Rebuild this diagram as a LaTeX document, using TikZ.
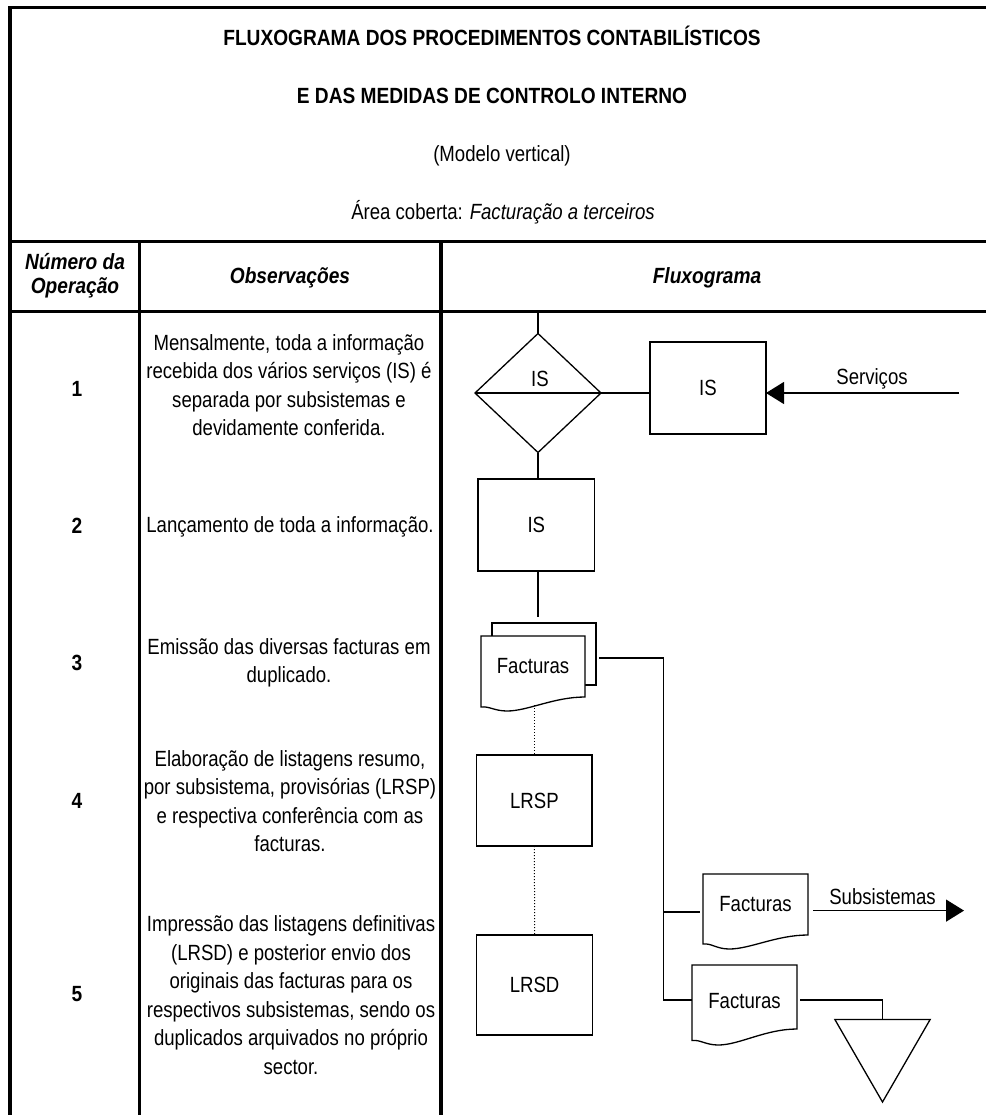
\documentclass[tikz,border=0pt]{standalone}
\usepackage{fontspec}
\setmainfont{Liberation Sans}[FakeStretch=0.845]
\newfontfamily\headfont{Liberation Sans}[FakeStretch=0.87]
\usetikzlibrary{shapes.geometric,arrows.meta,calc}

% document symbol: centre, width, height of the straight part, drop of the left corner, depth of the wave
\newcommand{\docoutline}[5]{%
  \draw[flow, fill=white] ($(#1)+(-#2/2,-#3/2)$) -- ++(#2,0) -- ++(0,#3)
    .. controls +(-0.3*#2,0) and +(0.2*#2,0) .. ++(-0.75*#2,#5)
    .. controls +(-0.12*#2,0) and +(0.08*#2,-1) .. ++(-0.25*#2,#4-#5) -- cycle;}

\begin{document}
\begin{tikzpicture}[x=1pt, y=-1pt,
  every node/.style={inner sep=0pt, outer sep=0pt},
  txt/.style={font=\fontsize{22}{28.5}\selectfont},
  obs/.style={txt, align=center},
  titletxt/.style={font=\headfont\fontsize{22}{24}\selectfont\bfseries, anchor=base},
  colhead/.style={font=\headfont\fontsize{22}{24}\selectfont\bfseries\itshape, anchor=base},
  num/.style={font=\headfont\fontsize{22}{24}\selectfont\bfseries, anchor=base},
  tblline/.style={line width=3.2pt, line cap=rect},
  flow/.style={line width=1.3pt},
  procbox/.style={draw, flow, rectangle, fill=white, txt},
  docbox/.style={rectangle, txt},
  dotline/.style={line width=1pt, dash pattern=on 1pt off 2pt},
  flowarrow/.style={flow, -{Triangle[length=18pt,width=22pt]}}
]
\useasboundingbox (0,0) rectangle (985,1115);
\fill[white] (0,0) rectangle (985,1115);

% table frame
\draw[tblline] (985,7.5) -- (10,7.5) -- (10,1115);
\draw[tblline] (10,241.5) -- (985,241.5);
\draw[tblline] (10,311.5) -- (985,311.5);
\draw[tblline] (139.5,241.5) -- (139.5,1115);
\draw[tblline] (441,241.5) -- (441,1115);

% heading
\node[titletxt] (t1) at (492,46) {FLUXOGRAMA DOS PROCEDIMENTOS CONTABILÍSTICOS};
\node[titletxt] (t2) at (492,104) {E DAS MEDIDAS DE CONTROLO INTERNO};
\node[txt, anchor=base] (t3) at (502,162) {(Modelo vertical)};
\node[txt, anchor=base] (t4) at (503,219) {Área coberta: \textit{Facturação a terceiros}};

% column headings
\node[colhead] (h1a) at (75,269) {Número da};
\node[colhead] (h1b) at (75,293) {Operação};
\node[colhead] (h2) at (290,283) {Observações};
\node[colhead] (h3) at (707,283) {Fluxograma};

% operation numbers
\node[num] (n1) at (77,396) {1};
\node[num] (n2) at (77,533) {2};
\node[num] (n3) at (77,670) {3};
\node[num] (n4) at (77,808) {4};
\node[num] (n5) at (77,1001) {5};

% remarks
\node[obs] (o1) at (289,385) {Mensalmente, toda a informação\\recebida dos vários serviços (IS) é\\separada por subsistemas e\\devidamente conferida.};
\node[txt, anchor=base] (o2) at (290,532) {Lançamento de toda a informação.};
\node[obs] (o3) at (289,663) {Emissão das diversas facturas em\\duplicado.};
\node[obs] (o4) at (290,801) {Elaboração de listagens resumo,\\por subsistema, provisórias (LRSP)\\e respectiva conferência com as\\facturas.};
\node[obs] (o5) at (291,995) {Impressão das listagens definitivas\\(LRSD) e posterior envio dos\\originais das facturas para os\\respectivos subsistemas, sendo os\\duplicados arquivados no próprio\\sector.};

% flowchart: operation 1
\coordinate (top) at (538,311.5);
\node[draw, flow, diamond, minimum width=126pt, minimum height=119pt] (dia) at (538,393) {};
\draw[flow] (dia.west) -- (dia.east);
\node[txt, anchor=base] (dialbl) at (540,386) {IS};
\draw[flow] (top) -- (dia.north);
\node[procbox, minimum width=116pt, minimum height=92pt] (is1) at (708,388) {IS};
\draw[flow] (dia.east) -- (dia.east -| is1.west);
\coordinate (srv) at (959,393);
\draw[flowarrow] (srv) -- (srv -| is1.east);
\node[txt, anchor=base] (srvlbl) at (872,384) {Serviços};

% operation 2
\node[procbox, minimum width=116.6pt, minimum height=92pt] (is2) at (536.3,525) {IS};
\draw[flow] (dia.south) -- (dia.south |- is2.north);

% operation 3: invoices in duplicate
\node[procbox, minimum width=104pt, minimum height=62pt] (back) at (544,654) {};
\coordinate (frontc) at (533,666.5);
\docoutline{frontc}{104}{61}{10}{14}
\node[docbox, minimum width=104pt, minimum height=61pt] (front) at (frontc) {Facturas};
\draw[flow, shorten >=6pt] (is2.south -| dia.south) -- (dia.south |- back.north);

% operation 4
\node[procbox, minimum width=115.3pt, minimum height=91pt] (lrsp) at (534.4,800.5) {LRSP};
\draw[dotline] ($(lrsp.north |- front.south)+(0,8)$) -- (lrsp.north);

% operation 5
\node[procbox, minimum width=116pt, minimum height=100pt] (lrsd) at (534.6,985) {LRSD};
\draw[dotline] (lrsp.south) -- (lrsd.north);

\coordinate (doc1c) at (755.5,904.5);
\docoutline{doc1c}{105}{61}{9}{14}
\node[docbox, minimum width=105pt, minimum height=61pt] (doc1) at (doc1c) {Facturas};

\coordinate (doc2c) at (744.5,997);
\docoutline{doc2c}{105}{64}{11.5}{16}
\node[docbox, minimum width=105pt, minimum height=64pt] (doc2) at ($(doc2c)+(0,4)$) {Facturas};

\node[draw, flow, regular polygon, regular polygon sides=3, shape border rotate=180,
      minimum size=110pt] (arq) at (882.5,1047) {};

\coordinate (bus) at (663.5,1000);
\coordinate (j1) at (663.5,912);
\draw[flow, shorten <=3pt] ([yshift=-4pt]back.east) -| (bus) -- (bus -| doc2.west);
\draw[flow, shorten >=3pt] (j1) -- (j1 -| doc1.west);
\coordinate (sub) at (964,910.6);
\draw[flowarrow, shorten <=5pt] (sub -| doc1.east) -- (sub);
\node[txt, anchor=base] (sublbl) at (882.5,904) {Subsistemas};
\draw[flow, shorten <=3pt] (bus -| doc2.east) -| (arq.north);
\end{tikzpicture}
\end{document}
